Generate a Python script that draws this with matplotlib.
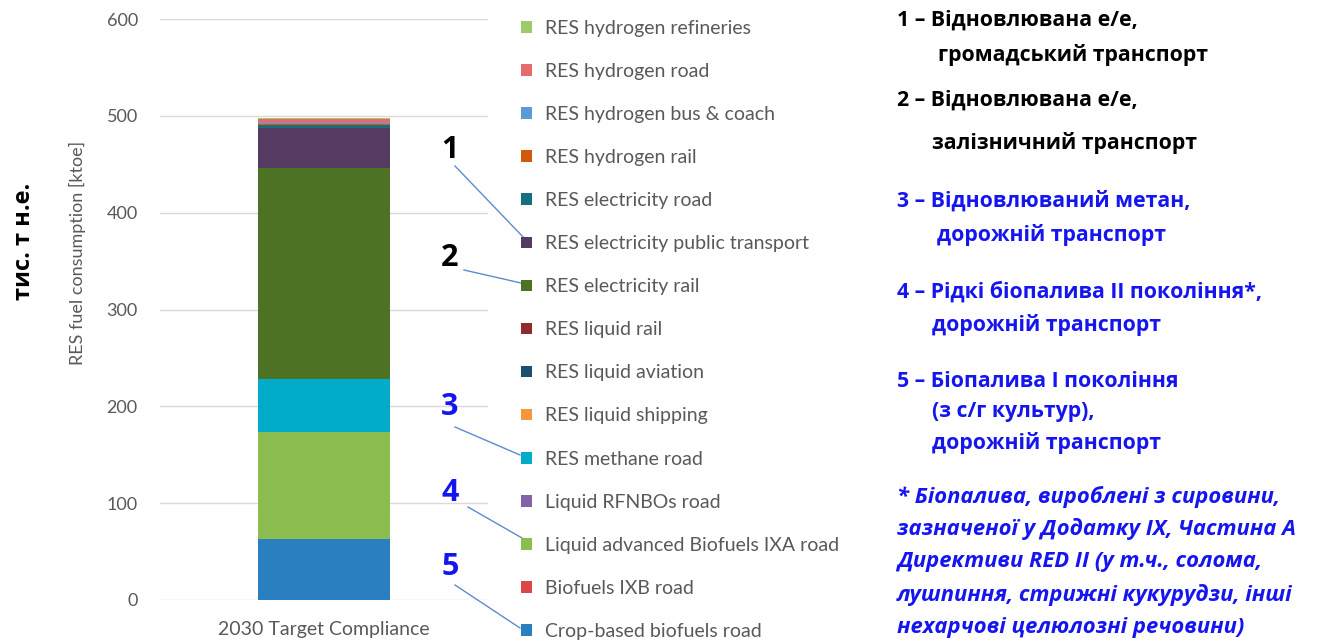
import numpy as np
import matplotlib
matplotlib.use("Agg")
import matplotlib.pyplot as plt
from matplotlib.lines import Line2D

# data (ktoe), bottom -> top of the stack
series = ["Crop-based biofuels road", "Biofuels IXB road", "Liquid advanced Biofuels IXA road",
          "Liquid RFNBOs road", "RES methane road", "RES liquid shipping", "RES liquid aviation",
          "RES liquid rail", "RES electricity rail", "RES electricity public transport",
          "RES electricity road", "RES hydrogen rail", "RES hydrogen bus & coach",
          "RES hydrogen road", "RES hydrogen refineries"]
values = [63, 0, 110.5, 0, 55, 0, 0, 0, 217.5, 41, 3.5, 1.5, 0.5, 4.5, 0.5]
colors = ["#2a7fc1", "#d9474b", "#8bbd4f", "#8461a8", "#00acc8", "#f7963f", "#1c4e73",
          "#8e2b2b", "#4e7224", "#553a62", "#147080", "#d3580d", "#5b9bd5", "#e46c6c", "#9ccb6a"]
category = ["2030 Target Compliance"]

W, H = 1320, 642
def px(x, y):
    return (x / W, 1 - y / H)

grey = "#595959"
plt.rcParams['font.family'] = ['Lato', 'DejaVu Sans']

fig = plt.figure(figsize=(W / 100, H / 100), dpi=100)
ax = fig.add_axes([160 / W, 1 - 600 / H, 328 / W, 581 / H])

bottom = 0
bars = []
for name, val, col in zip(series, values, colors):
    b = ax.bar(category, [val], 0.4, bottom=bottom, color=col, label=name, zorder=3)
    bars.append(b)
    bottom += val

ax.set_xlim(-0.5, 0.5)
ax.set_ylim(0, 600)
ax.set_yticks(np.arange(0, 601, 100))
ax.grid(axis='y', color="#d9d9d9", linewidth=1, zorder=0)
for s in ax.spines.values():
    s.set_visible(False)
ax.tick_params(axis='both', length=0, colors=grey)
ax.tick_params(axis='y', pad=16, labelsize=13)
ax.tick_params(axis='x', pad=15, labelsize=14)
ax.set_ylabel("RES fuel consumption [ktoe]", color=grey, fontsize=13)
ax.yaxis.set_label_coords(-0.225, 0.597)

leg = fig.legend(handles=bars[::-1], labels=series[::-1], loc='upper left',
                 bbox_to_anchor=px(521, 20), frameon=False, fontsize=14,
                 labelspacing=1.34, handlelength=0.55, handleheight=0.55,
                 handletextpad=0.7, borderpad=0, borderaxespad=0)
for t in leg.get_texts():
    t.set_color(grey)

fig.text(*px(24, 241), "тис. т н.е.", rotation=90, fontsize=17, fontweight='bold',
         ha='center', va='center', family=['Open Sans', 'DejaVu Sans'])

# callout numbers with leader lines to legend
blue = "#1515f0"
callouts = [("1", "black", (450, 150), (455, 166), (525, 239)),
            ("2", "black", (450, 258), (464, 270), (521, 283)),
            ("3", blue, (450, 407), (455, 427), (520, 455)),
            ("4", blue, (450, 493), (468, 507), (522, 538)),
            ("5", blue, (450, 567), (455, 585), (520, 628))]
for num, col, pos, p0, p1 in callouts:
    fig.text(*px(*pos), num, color=col, fontsize=22, fontweight='bold',
             ha='center', va='center', family=['Open Sans', 'DejaVu Sans'])
    a, b = px(*p0), px(*p1)
    fig.add_artist(Line2D([a[0], b[0]], [a[1], b[1]], transform=fig.transFigure,
                          color="#5b8bd0", linewidth=1))

# right-hand notes
rf = ['Open Sans', 'DejaVu Sans']
notes = [("1 – Відновлювана е/е,", 897, 20, "black"),
         ("громадський транспорт", 938, 55, "black"),
         ("2 – Відновлювана е/е,", 897, 100, "black"),
         ("залізничний транспорт", 932, 143, "black"),
         ("3 – Відновлюваний метан,", 897, 201, blue),
         ("дорожній транспорт", 937, 235, blue),
         ("4 – Рідкі біопалива ІІ покоління*,", 897, 292, blue),
         ("дорожній транспорт", 932, 325, blue),
         ("5 – Біопалива І покоління", 897, 382, blue),
         ("(з с/г культур),", 932, 412, blue),
         ("дорожній транспорт", 932, 443, blue)]
for txt, x, y, col in notes:
    fig.text(*px(x, y), txt, color=col, fontsize=15.3, fontweight='bold',
             ha='left', va='center', family=rf)

foot = ["* Біопалива, вироблені з сировини,",
        "зазначеної у Додатку ІХ, Частина А",
        "Директиви RED II (у т.ч., солома,",
        "лушпиння, стрижні кукурудзи, інші",
        "нехарчові целюлозні речовини)"]
for i, line in enumerate(foot):
    fig.text(*px(897, 497 + i * 32.5), line, color=blue, fontsize=15.8, fontweight='bold',
             style='italic', ha='left', va='center', family=rf)

fig.savefig("out.png", dpi=100)
